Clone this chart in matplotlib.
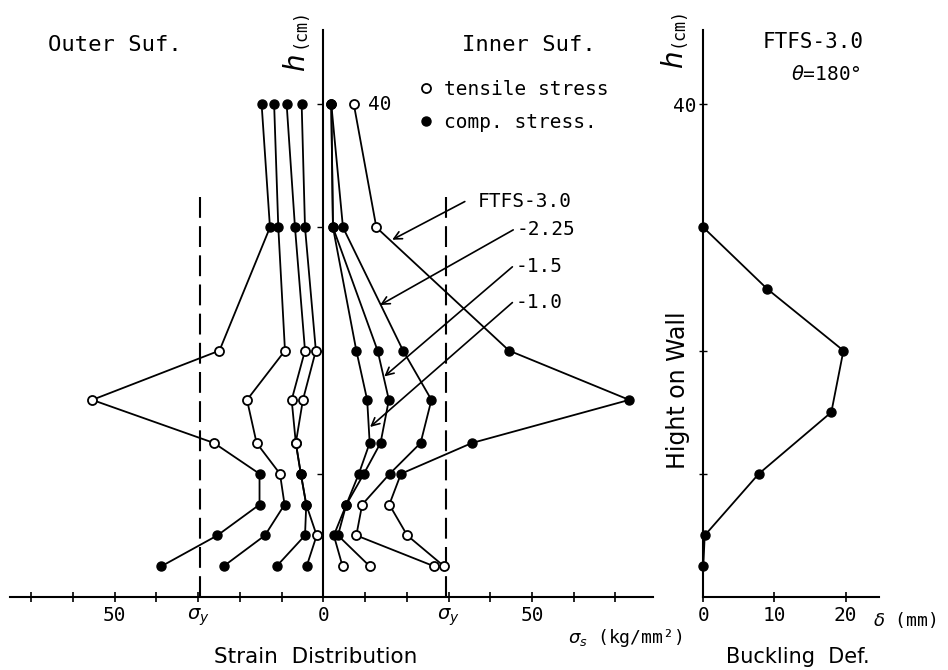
import matplotlib.pyplot as plt
from matplotlib.lines import Line2D

plt.rcParams['font.family'] = ['DejaVu Sans Mono', 'DejaVu Sans']
plt.rcParams['mathtext.fontset'] = 'dejavusans'

# gauge heights on the wall (cm)
h = [40, 30, 20, 16, 12.5, 10, 7.5, 5, 2.5]

# outer surface stress (kg/mm2), drawn to the left of h axis
outer_30 = [14.8, 12.8, 24.9, 55.4, 26.2, 15.3, 15.3, 25.4, 38.8]
outer_225 = [11.8, 10.8, 9.2, 18.3, 16.0, 10.4, 9.3, 14.0, 23.9]
outer_15 = [8.8, 6.8, 4.4, 7.6, 6.6, 5.4, 4.1, 4.4, 11.2]
outer_10 = [5.2, 4.4, 1.8, 4.9, 6.6, 5.4, 4.1, 1.6, 4.0]

# inner surface stress (kg/mm2), drawn to the right
inner_30 = [7.3, 12.7, 44.5, 73.3, 35.6, 18.6, 15.8, 20.1, 28.9]
inner_225 = [1.9, 4.7, 19.1, 25.9, 23.3, 15.9, 9.3, 7.9, 26.5]
inner_15 = [1.9, 2.3, 13.0, 15.7, 13.7, 9.7, 5.5, 3.5, 11.1]
inner_10 = [1.9, 2.3, 7.9, 10.5, 11.1, 8.5, 5.5, 2.5, 4.6]

# t = tensile (open marker), c = compression (filled marker)
outer_30_kind = 'cctttcccc'
outer_225_kind = 'ccttttccc'
outer_15_kind = 'cctttcccc'
outer_10_kind = 'cctttcctc'
inner_30_kind = 'ttccccttt'
inner_225_kind = 'ccccccttt'
inner_15_kind = 'cccccccct'
inner_10_kind = 'cccccccct'

sigma_y = 29.5

# labels of the specimens and where the arrows point (stress, h)
spec_labels = ['FTFS-3.0', '-2.25', '-1.5', '-1.0']
arrow_tail = [(33.9, 32.1), (45.5, 29.8), (45.3, 26.8), (45.3, 23.9)]
arrow_head = [(16.5, 29.0), (13.6, 23.7), (14.6, 17.9), (11.2, 13.8)]
label_gap = [3.0, 0.8, 0.8, 0.8]

# buckling deformation
buck_h = [30, 25, 20, 15, 10, 5, 2.5]
buck_delta = [0, 9, 19.7, 18, 7.8, 0.2, 0]

W, H = 948, 670
mono = 'DejaVu Sans Mono'
sans = 'DejaVu Sans'


def fx(px):
    return px / W


def fy(py):
    return 1 - py / H


def draw_series(ax, xs, kinds, sign):
    xs = [sign * v for v in xs]
    ax.plot(xs, h, color='black', lw=1.3, zorder=2)
    fx_ = [x for x, k in zip(xs, kinds) if k == 'c']
    fh = [y for y, k in zip(h, kinds) if k == 'c']
    ox = [x for x, k in zip(xs, kinds) if k == 't']
    oh = [y for y, k in zip(h, kinds) if k == 't']
    ax.plot(fx_, fh, 'o', ms=6.5, mfc='black', mec='black', zorder=3)
    ax.plot(ox, oh, 'o', ms=6.5, mfc='white', mec='black', mew=1.3, zorder=3)


fig = plt.figure(figsize=(W / 100, H / 100), dpi=100)

ax = fig.add_axes([fx(10), fy(597), 643 / W, 566.7 / H])
ax.set_xlim(-75.1, 79.0)
ax.set_ylim(0, 46)
for s in ['top', 'right']:
    ax.spines[s].set_visible(False)
ax.spines['left'].set_position(('data', 0))
ax.spines['left'].set_linewidth(1.5)
ax.spines['bottom'].set_linewidth(1.5)

for vals, kinds in [(outer_30, outer_30_kind), (outer_225, outer_225_kind),
                    (outer_15, outer_15_kind), (outer_10, outer_10_kind)]:
    draw_series(ax, vals, kinds, -1)
for vals, kinds in [(inner_30, inner_30_kind), (inner_225, inner_225_kind),
                    (inner_15, inner_15_kind), (inner_10, inner_10_kind)]:
    draw_series(ax, vals, kinds, 1)

ax.vlines([-sigma_y, sigma_y], 0, 33, colors='black', lw=1.5,
          linestyles=(0, (10, 4)))

xt = list(range(-70, 71, 10))
xl = []
for t in xt:
    if abs(t) == 50:
        xl.append('50')
    elif t == 0:
        xl.append('0')
    elif abs(t) == 30:
        xl.append(r'$\sigma_y$')
    else:
        xl.append('')
ax.set_xticks(xt)
ax.set_xticklabels(xl, fontsize=14)
ax.tick_params(axis='x', direction='inout', length=7, width=1.2, pad=3)
ax.set_yticks([10, 20, 30, 40])
ax.set_yticklabels([])
ax.tick_params(axis='y', direction='out', length=4, width=1.0)
ax.text(10.6, 40, '40', ha='left', va='center', fontsize=14)

for lab, tail, head, gap in zip(spec_labels, arrow_tail, arrow_head, label_gap):
    ax.annotate('', xy=head, xytext=tail,
                arrowprops=dict(arrowstyle='->', lw=1.2, color='black',
                                mutation_scale=14, shrinkA=0, shrinkB=0))
    ax.text(tail[0] + gap, tail[1], lab, ha='left', va='center', fontsize=14)

handles = [Line2D([], [], ls='none', marker='o', ms=6.5, mfc='white',
                  mec='black', mew=1.3),
           Line2D([], [], ls='none', marker='o', ms=6.5, mfc='black',
                  mec='black')]
fig.legend(handles, ['tensile stress', 'comp. stress.'], loc='center left',
           bbox_to_anchor=(fx(401), fy(106)), frameon=False,
           handlelength=0.8, handletextpad=0.5, labelspacing=0.75,
           prop={'family': mono, 'size': 14})

fig.text(fx(48), fy(45), 'Outer Suf.', ha='left', va='center', fontsize=16)
fig.text(fx(462), fy(45), 'Inner Suf.', ha='left', va='center', fontsize=16)
fig.text(fx(297), fy(63), r'$h$', rotation=90, ha='center', va='center',
         fontsize=20)
fig.text(fx(300), fy(28), '(cm)', rotation=90, ha='center', va='center',
         fontsize=12)
fig.text(fx(568), fy(638), r'$\sigma_s$ (kg/mm²)', ha='left', va='center',
         fontsize=13)
fig.text(fx(316), fy(657), 'Strain  Distribution', ha='center', va='center',
         fontsize=15.5, family=sans)

# buckling panel
ax2 = fig.add_axes([fx(703.3), fy(597), 175.7 / W, 566.7 / H])
ax2.set_xlim(0, 24.7)
ax2.set_ylim(0, 46)
for s in ['top', 'right']:
    ax2.spines[s].set_visible(False)
ax2.spines['left'].set_linewidth(1.5)
ax2.spines['bottom'].set_linewidth(1.5)
ax2.plot(buck_delta, buck_h, '-o', color='black', lw=1.3, ms=6.5,
         clip_on=False, zorder=3)
ax2.set_xticks([0, 10, 20])
ax2.set_xticklabels(['0', '10', '20'], fontsize=14)
ax2.tick_params(axis='x', direction='inout', length=7, width=1.2, pad=3)
ax2.set_yticks([10, 20, 30, 40])
ax2.set_yticklabels(['', '', '', '40'], fontsize=14)
ax2.tick_params(axis='y', direction='inout', length=6, width=1.0, pad=2)

fig.text(fx(675), fy(60), r'$h$', rotation=90, ha='center', va='center',
         fontsize=20)
fig.text(fx(677), fy(27), '(cm)', rotation=90, ha='center', va='center',
         fontsize=12)
fig.text(fx(678), fy(390), 'Hight on Wall', rotation=90, ha='center',
         va='center', fontsize=17, family=sans)
fig.text(fx(813), fy(42), 'FTFS-3.0', ha='center', va='center', fontsize=15)
fig.text(fx(826), fy(75), r'$\theta$=180°', ha='center', va='center',
         fontsize=14)
fig.text(fx(873), fy(620), r'$\delta$ (mm)', ha='left', va='center',
         fontsize=13)
fig.text(fx(798), fy(657), 'Buckling  Def.', ha='center', va='center',
         fontsize=15, family=sans)

fig.savefig('out.png', dpi=100)
